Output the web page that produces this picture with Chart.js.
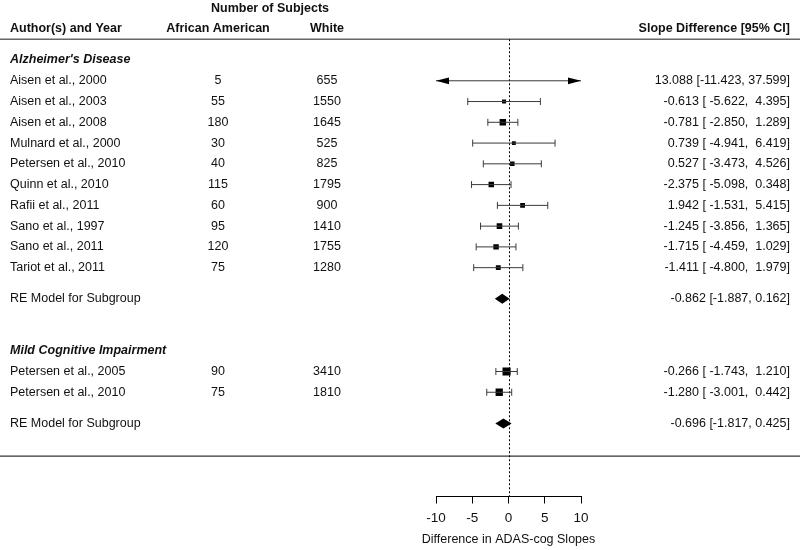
<!DOCTYPE html>
<html>
<head>
<meta charset="utf-8">
<script src="https://cdn.jsdelivr.net/npm/chart.js@4.4.0/dist/chart.umd.min.js"></script>
<style>
  html, body { margin: 0; padding: 0; background: #fff; }
</style>
</head>
<body>
<canvas id="forest" width="800" height="550"></canvas>
<script>
const subgroups = ["Alzheimer's Disease", 'Mild Cognitive Impairment'];
const studies = [
    'Aisen et al., 2000', 'Aisen et al., 2003', 'Aisen et al., 2008', 'Mulnard et al., 2000',
    'Petersen et al., 2010', 'Quinn et al., 2010', 'Rafii et al., 2011', 'Sano et al., 1997',
    'Sano et al., 2011', 'Tariot et al., 2011',
    'Petersen et al., 2005', 'Petersen et al., 2010',
];
const studyGroup = [0, 0, 0, 0, 0, 0, 0, 0, 0, 0, 1, 1];
const nAfricanAmerican = [5, 55, 180, 30, 40, 115, 60, 95, 120, 75, 90, 75];
const nWhite = [655, 1550, 1645, 525, 825, 1795, 900, 1410, 1755, 1280, 3410, 1810];
const slopeDiff = [13.088, -0.613, -0.781, 0.739, 0.527, -2.375, 1.942, -1.245, -1.715, -1.411, -0.266, -1.280];
const ciLower = [-11.423, -5.622, -2.850, -4.941, -3.473, -5.098, -1.531, -3.856, -4.459, -4.800, -1.743, -3.001];
const ciUpper = [37.599, 4.395, 1.289, 6.419, 4.526, 0.348, 5.415, 1.365, 1.029, 1.979, 1.210, 0.442];
const reEstimate = [-0.862, -0.696];
const reLower = [-1.887, -1.817];
const reUpper = [0.162, 0.425];
const xTicks = [-10, -5, 0, 5, 10];
const xTitle = 'Difference in ADAS-cog Slopes';

const FONT = '"Liberation Sans", Arial, Helvetica, sans-serif';
const INK = '#111';

// rows, counted from the top
const studyRow = [];
const headingRow = [];
const summaryRow = [];
let row = 0;
subgroups.forEach((g, gi) => {
    headingRow.push(row);
    row += 1;
    studies.forEach((s, i) => {
        if (studyGroup[i] === gi) { studyRow[i] = row; row += 1; }
    });
    summaryRow.push(row + 0.5);
    row += 3;
});
const headerLineRow = -1;
const separatorRow = summaryRow[summaryRow.length - 1] + 1.58;

// square size from inverse standard error, like metafor does
const invSe = studies.map((s, i) => 2 * 1.96 / (ciUpper[i] - ciLower[i]));
const wMin = Math.min(...invSe);
const wMax = Math.max(...invSe);
const squareRadius = invSe.map(v => (0.5 + (v - wMin) / (wMax - wMin)) * 5.4 / (2 * Math.SQRT1_2));

const fmt = v => v.toFixed(3);
const loWidth = Math.max(...ciLower.map(v => fmt(v).length));
const hiWidth = Math.max(...ciUpper.map(v => fmt(v).length));
const studyText = i => fmt(slopeDiff[i]) + ' [' + fmt(ciLower[i]).padStart(loWidth) + ', ' + fmt(ciUpper[i]).padStart(hiWidth) + ']';
const summaryText = g => fmt(reEstimate[g]) + ' [' + fmt(reLower[g]) + ', ' + fmt(reUpper[g]) + ']';

const ciDatasets = studies.map((s, i) => ({
    type: 'scatter',
    showLine: true,
    data: [{ x: ciLower[i], y: studyRow[i] }, { x: ciUpper[i], y: studyRow[i] }],
    borderColor: '#3a3a3a',
    borderWidth: 1,
    pointStyle: 'line',
    pointRotation: 90,
    pointRadius: 3.5,
    pointBorderColor: '#3a3a3a',
    pointBorderWidth: 1,
}));

const pointDataset = {
    type: 'scatter',
    data: studies.map((s, i) => ({ x: slopeDiff[i], y: studyRow[i] })),
    pointStyle: 'rect',
    pointRadius: squareRadius,
    backgroundColor: '#000',
    borderWidth: 0,
};

const forestPlugin = {
    id: 'forestText',
    beforeDatasetsDraw(chart) {
        const { ctx, chartArea } = chart;
        const x = chart.scales.x;
        const y = chart.scales.y;
        ctx.save();
        ctx.strokeStyle = '#666';
        ctx.lineWidth = 1.5;
        ctx.beginPath();
        ctx.moveTo(0, y.getPixelForValue(headerLineRow));
        ctx.lineTo(800, y.getPixelForValue(headerLineRow));
        ctx.stroke();
        ctx.strokeStyle = '#333';
        ctx.lineWidth = 1.3;
        ctx.beginPath();
        ctx.moveTo(0, y.getPixelForValue(separatorRow));
        ctx.lineTo(800, y.getPixelForValue(separatorRow));
        ctx.stroke();
        // dotted reference line at 0
        const x0 = Math.round(x.getPixelForValue(0)) + 0.5;
        ctx.strokeStyle = '#000';
        ctx.lineWidth = 1;
        ctx.setLineDash([2, 2]);
        ctx.beginPath();
        ctx.moveTo(x0, y.getPixelForValue(headerLineRow));
        ctx.lineTo(x0, chartArea.bottom);
        ctx.stroke();
        ctx.restore();
    },
    afterDatasetsDraw(chart) {
        const { ctx } = chart;
        const x = chart.scales.x;
        const y = chart.scales.y;
        ctx.save();
        ctx.fillStyle = '#000';

        // arrows where the interval runs past the axis limits
        studies.forEach((s, i) => {
            const py = y.getPixelForValue(studyRow[i]);
            if (ciLower[i] < x.min) {
                const tip = x.getPixelForValue(x.min);
                ctx.beginPath();
                ctx.moveTo(tip, py);
                ctx.lineTo(tip + 13, py - 3.4);
                ctx.lineTo(tip + 13, py + 3.4);
                ctx.closePath();
                ctx.fill();
            }
            if (ciUpper[i] > x.max) {
                const tip = x.getPixelForValue(x.max);
                ctx.beginPath();
                ctx.moveTo(tip, py);
                ctx.lineTo(tip - 13, py - 3.4);
                ctx.lineTo(tip - 13, py + 3.4);
                ctx.closePath();
                ctx.fill();
            }
        });

        // summary diamonds
        subgroups.forEach((g, gi) => {
            const r = summaryRow[gi];
            ctx.beginPath();
            ctx.moveTo(x.getPixelForValue(reLower[gi]), y.getPixelForValue(r));
            ctx.lineTo(x.getPixelForValue(reEstimate[gi]), y.getPixelForValue(r - 0.24));
            ctx.lineTo(x.getPixelForValue(reUpper[gi]), y.getPixelForValue(r));
            ctx.lineTo(x.getPixelForValue(reEstimate[gi]), y.getPixelForValue(r + 0.24));
            ctx.closePath();
            ctx.fill();
        });

        // text columns
        ctx.fillStyle = INK;
        ctx.textBaseline = 'middle';
        const text = (str, px, r, align, font) => {
            ctx.font = font;
            ctx.textAlign = align;
            ctx.fillText(str, px, y.getPixelForValue(r));
        };
        const plain = '12.5px ' + FONT;
        const bold = 'bold 12.5px ' + FONT;
        const boldItalic = 'italic bold 12.5px ' + FONT;

        text('Number of Subjects', 270, -2.48, 'center', bold);
        text('Author(s) and Year', 10, -1.52, 'left', bold);
        text('African American', 218, -1.52, 'center', bold);
        text('White', 327, -1.52, 'center', bold);
        text('Slope Difference [95% CI]', 790, -1.52, 'right', bold);

        subgroups.forEach((g, gi) => {
            text(g, 10, headingRow[gi], 'left', boldItalic);
            text('RE Model for Subgroup', 10, summaryRow[gi], 'left', plain);
            text(summaryText(gi), 790, summaryRow[gi], 'right', plain);
        });
        studies.forEach((s, i) => {
            text(s, 10, studyRow[i], 'left', plain);
            text(String(nAfricanAmerican[i]), 218, studyRow[i], 'center', plain);
            text(String(nWhite[i]), 327, studyRow[i], 'center', plain);
            text(studyText(i), 790, studyRow[i], 'right', plain);
        });

        // axis title, drawn here so it is not squeezed to the axis width
        ctx.font = '12.5px ' + FONT;
        ctx.textAlign = 'center';
        ctx.fillText(xTitle, (x.left + x.right) / 2, 540);
        ctx.restore();
    },
};

new Chart(document.getElementById('forest').getContext('2d'), {
    type: 'scatter',
    data: { datasets: [...ciDatasets, pointDataset] },
    options: {
        responsive: false,
        animation: false,
        layout: { autoPadding: false, padding: { left: 436, right: 219, top: 0, bottom: 17 } },
        plugins: { legend: { display: false }, tooltip: { enabled: false } },
        scales: {
            x: {
                type: 'linear',
                min: -10,
                max: 10,
                afterBuildTicks: scale => { scale.ticks = xTicks.map(v => ({ value: v })); },
                grid: { drawOnChartArea: false, drawTicks: true, tickLength: 7, color: '#000' },
                border: { display: true, color: '#000', width: 1 },
                ticks: { padding: 8, color: INK, font: { family: FONT, size: 13.5, lineHeight: 1 } },
                title: { display: false },
            },
            y: {
                type: 'linear',
                display: false,
                reverse: true,
                min: -2.89,
                max: 21.02,
            },
        },
    },
    plugins: [forestPlugin],
});
</script>
</body>
</html>
